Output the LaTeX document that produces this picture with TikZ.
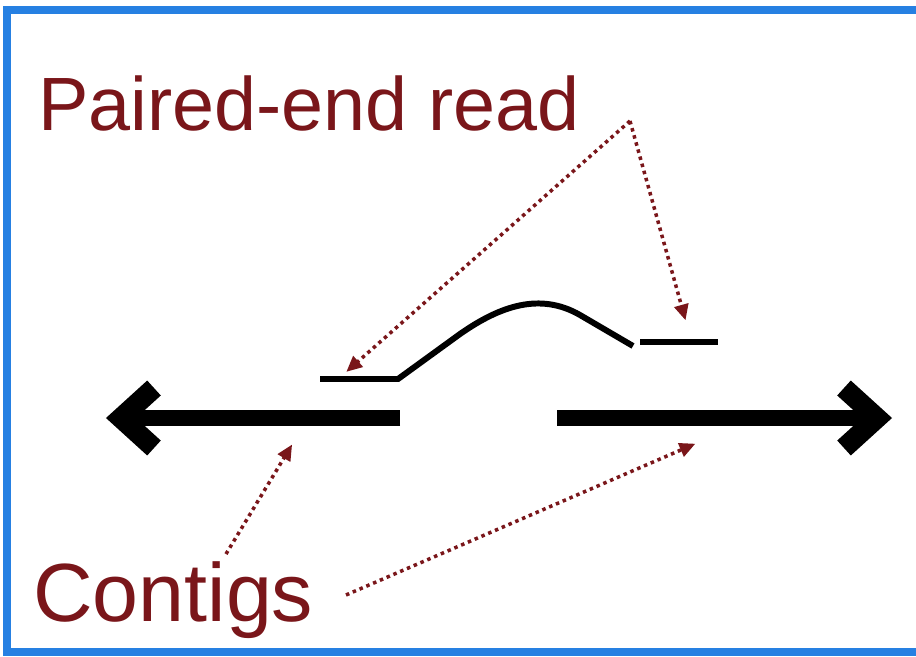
\documentclass[tikz,border=0pt]{standalone}
\usepackage{fontspec}
\setmainfont{Liberation Sans}
\usetikzlibrary{arrows.meta}

\definecolor{labelred}{RGB}{122,22,26}
\definecolor{framebl}{RGB}{38,128,226}

\tikzset{
  label text/.style={text=labelred, inner sep=0pt, anchor=base west},
  pointer/.style={labelred, line width=2pt, dash pattern=on 2pt off 2.2pt,
    -{Triangle[length=9pt,width=8pt]}, shorten >=1pt},
  contig/.style={line width=9pt},
  chevron/.style={line width=11.5pt, line join=miter, miter limit=10},
  read/.style={line width=3.4pt}
}

\begin{document}
\begin{tikzpicture}[x=0.02cm, y=-0.02cm]
  \useasboundingbox (0,0) rectangle (916,656);
  \fill[white] (0,0) rectangle (916,656);

  % frame
  \draw[framebl, line width=4pt] (916,10) -- (7,10) -- (7,652) -- (916,652);

  % labels
  \node[label text, font=\fontsize{43}{43}\selectfont] (pe) at (38,130) {Paired-end read};
  \node[label text, font=\fontsize{47}{47}\selectfont] (ctg) at (33,621) {Contigs};

  % contigs
  \draw[contig] (400,418) -- (124,418);
  \draw[chevron] (154,388) -- (121,418) -- (154,448);
  \draw[contig] (557,418) -- (872,418);
  \draw[chevron] (844,388) -- (877,418) -- (844,448);

  % paired-end read
  \draw[read] (320,379) -- (398,379) -- (460,334)
    .. controls (500,306) and (540,292) .. (580,315) -- (633,346);
  \draw[read] (640,342) -- (718,342);

  \coordinate (peL) at (345,373);
  \coordinate (peR) at (686,322);
  \coordinate (peS) at (630,121);
  \coordinate (ctgL) at (293,443);
  \coordinate (ctgR) at (697,443);
  \coordinate (ctgS) at (226,554);
  \coordinate (ctgT) at (346,595);

  \draw[pointer] (peS) -- (peL);
  \draw[pointer] (peS) -- (peR);
  \draw[pointer] (ctgS) -- (ctgL);
  \draw[pointer] (ctgT) -- (ctgR);
\end{tikzpicture}
\end{document}
